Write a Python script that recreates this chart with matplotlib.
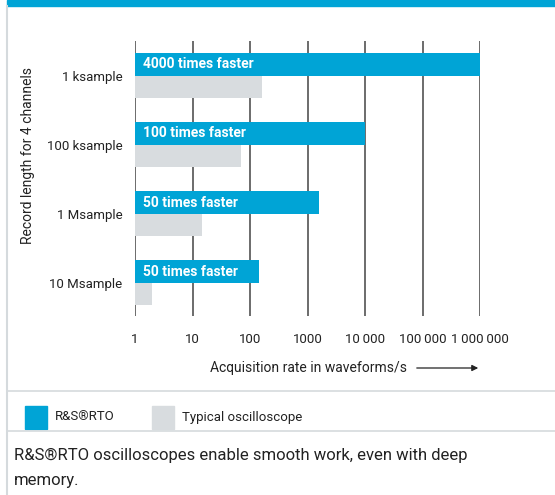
import numpy as np
import matplotlib
matplotlib.use("Agg")
import matplotlib.pyplot as plt
from matplotlib.lines import Line2D
from matplotlib.patches import Rectangle, FancyArrowPatch

plt.rcParams['font.family'] = ['Roboto', 'DejaVu Sans']

# data
categories = ["1 ksample", "100 ksample", "1 Msample", "10 Msample"]
rto_rate = [1000000, 10000, 1600, 145]
typical_rate = [160, 70, 14.5, 2.0]
bar_labels = ["4000 times faster", "100 times faster", "50 times faster", "50 times faster"]
tick_vals = [1, 10, 100, 1000, 10000, 100000, 1000000]
tick_text = ["1", "10", "100", "1000", "10\u2009000", "100\u2009000", "1\u2009000\u2009000"]

blue = "#00a4d6"
grey = "#d8dcdf"
line_grey = "#d5dadd"
txt = "#222222"

fig = plt.figure(figsize=(5.55, 4.95), dpi=100)

# frame decorations
fig.patches.append(Rectangle((7/555, 1 - 6/495), 1, 6/495, transform=fig.transFigure,
                             color=blue, zorder=0))
fig.add_artist(Line2D([7/555, 7/555], [0, 1 - 6/495], color=line_grey, lw=1.5))
fig.add_artist(Line2D([7/555, 1], [1 - 391/495] * 2, color=line_grey, lw=1.2))
fig.add_artist(Line2D([7/555, 1], [1 - 431/495] * 2, color=line_grey, lw=1.2))

ax = fig.add_axes([135/555, 1 - 316/495, 345/555, 275/495])
ax.set_xscale("log")
y = np.arange(len(categories))
h = 0.325
ax.barh(y - h/2, rto_rate, height=h, color=blue, zorder=2)
ax.barh(y + h/2, typical_rate, height=h, color=grey, zorder=2)

for yi, lab in zip(y, bar_labels):
    ax.annotate(lab, xy=(1, yi - h/2), xytext=(6, 0), textcoords="offset points",
                color="white", fontweight="bold", fontsize=10, va="center", ha="left",
                zorder=3)

ax.set_xlim(1, 1000000)
ax.set_ylim(3.48, -0.5)
ax.set_xticks(tick_vals)
ax.set_xticklabels(tick_text, fontsize=9.5, color=txt)
ax.minorticks_off()
ax.tick_params(axis="x", length=0, pad=12)
ax.set_yticks(y)
ax.set_yticklabels(categories, fontsize=9.5, color=txt)
ax.tick_params(axis="y", length=0, pad=9)
for v in tick_vals:
    ax.axvline(v, color="#444444", lw=1.1, zorder=1)
for s in ax.spines.values():
    s.set_visible(False)

fig.text(28/555, 1 - 156/495, "Record length for 4 channels", rotation=90,
         ha="center", va="center", fontsize=10, color=txt)
fig.text(210/555, 1 - 368/495, "Acquisition rate in waveforms/s", ha="left",
         va="center", fontsize=10, color=txt)
fig.add_artist(FancyArrowPatch((414/555, 1 - 368/495), (481/555, 1 - 368/495),
                               transform=fig.transFigure, arrowstyle="-|>",
                               mutation_scale=9, color=txt, lw=0.9))

# legend
fig.patches.append(Rectangle((25/555, 1 - 429/495), 22/555, 23/495, transform=fig.transFigure,
                             color=blue))
fig.text(55/555, 1 - 417/495, "R&S\u00aeRTO", ha="left", va="center", fontsize=9.5,
         color=txt)
fig.patches.append(Rectangle((152/555, 1 - 429/495), 22/555, 23/495, transform=fig.transFigure,
                             color=grey))
fig.text(182/555, 1 - 417/495, "Typical oscilloscope", ha="left", va="center", fontsize=9.5,
         color=txt)

# caption
fig.text(14/555, 1 - 455/495, "R&S\u00aeRTO oscilloscopes enable smooth work, even with deep",
         ha="left", va="center", fontsize=12, color=txt)
fig.text(14/555, 1 - 481/495, "memory.", ha="left", va="center", fontsize=12, color=txt)

fig.savefig("out.png", dpi=100)
